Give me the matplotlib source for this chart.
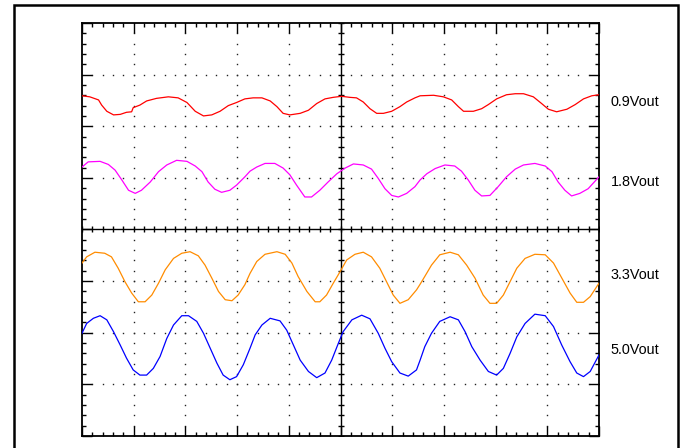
import matplotlib
matplotlib.use("Agg")
import matplotlib.pyplot as plt
from matplotlib.patches import Rectangle
import numpy as np

# Scope traces, in divisions (x: 0-10, y: 0-8 from bottom)
red_x = [0.00, 0.15, 0.32, 0.38, 0.48, 0.61, 0.74, 0.86, 0.96, 0.99, 1.12, 1.25,
         1.44, 1.67, 1.86, 2.03, 2.19, 2.35, 2.51, 2.67, 2.83, 2.99, 3.15, 3.31,
         3.48, 3.64, 3.77, 3.89, 4.02, 4.22, 4.38, 4.54, 4.70, 4.86, 5.02, 5.18,
         5.31, 5.44, 5.57, 5.70, 5.83, 5.99, 6.15, 6.28, 6.44, 6.54, 6.80, 6.99,
         7.15, 7.28, 7.38, 7.57, 7.73, 7.86, 8.02, 8.21, 8.38, 8.54, 8.73, 8.89,
         9.02, 9.18, 9.38, 9.54, 9.70, 9.86, 10.0]
red_y = [6.59, 6.57, 6.51, 6.41, 6.29, 6.22, 6.23, 6.27, 6.28, 6.36, 6.41, 6.49,
         6.54, 6.57, 6.55, 6.46, 6.29, 6.20, 6.22, 6.29, 6.40, 6.46, 6.53, 6.55,
         6.55, 6.49, 6.38, 6.25, 6.22, 6.25, 6.31, 6.44, 6.53, 6.56, 6.58, 6.56,
         6.55, 6.47, 6.34, 6.25, 6.25, 6.29, 6.38, 6.47, 6.55, 6.59, 6.60, 6.57,
         6.51, 6.38, 6.29, 6.29, 6.34, 6.42, 6.53, 6.61, 6.63, 6.63, 6.57, 6.44,
         6.33, 6.28, 6.33, 6.42, 6.53, 6.59, 6.61]

magenta_x = [0.00, 0.12, 0.35, 0.51, 0.64, 0.77, 0.90, 1.03, 1.15, 1.32, 1.48, 1.64,
             1.83, 2.03, 2.19, 2.32, 2.44, 2.57, 2.70, 2.86, 2.99, 3.15, 3.25, 3.38,
             3.54, 3.73, 3.89, 4.02, 4.15, 4.31, 4.44, 4.60, 4.76, 4.93, 5.09, 5.25,
             5.44, 5.60, 5.73, 5.86, 5.99, 6.12, 6.28, 6.44, 6.54, 6.67, 6.83, 7.02,
             7.21, 7.34, 7.47, 7.60, 7.73, 7.89, 8.05, 8.21, 8.38, 8.54, 8.76, 8.96,
             9.09, 9.21, 9.34, 9.47, 9.63, 9.79, 10.0]
magenta_y = [5.21, 5.31, 5.32, 5.26, 5.15, 4.96, 4.76, 4.70, 4.76, 4.92, 5.12, 5.25,
             5.34, 5.32, 5.23, 5.12, 4.92, 4.78, 4.72, 4.76, 4.86, 5.02, 5.13, 5.21,
             5.28, 5.28, 5.19, 5.06, 4.86, 4.63, 4.63, 4.76, 4.92, 5.08, 5.19, 5.27,
             5.25, 5.17, 4.99, 4.79, 4.66, 4.63, 4.70, 4.83, 4.96, 5.08, 5.18, 5.25,
             5.23, 5.13, 4.96, 4.76, 4.65, 4.66, 4.83, 5.02, 5.17, 5.25, 5.28, 5.23,
             5.12, 4.92, 4.76, 4.65, 4.70, 4.79, 5.02]

orange_x = [0.00, 0.09, 0.25, 0.44, 0.57, 0.70, 0.83, 0.96, 1.09, 1.22, 1.35, 1.48,
            1.61, 1.77, 1.93, 2.09, 2.25, 2.38, 2.51, 2.64, 2.77, 2.90, 3.02, 3.15,
            3.25, 3.38, 3.54, 3.77, 3.93, 4.06, 4.18, 4.35, 4.51, 4.60, 4.73, 4.86,
            4.99, 5.12, 5.28, 5.44, 5.60, 5.76, 5.89, 6.02, 6.15, 6.31, 6.47, 6.54,
            6.63, 6.76, 6.92, 7.12, 7.28, 7.44, 7.60, 7.76, 7.89, 8.02, 8.15, 8.28,
            8.41, 8.57, 8.76, 8.96, 9.12, 9.28, 9.44, 9.57, 9.70, 9.83, 10.0]
orange_y = [3.35, 3.47, 3.56, 3.54, 3.47, 3.25, 2.99, 2.77, 2.60, 2.60, 2.73, 2.96,
            3.22, 3.44, 3.54, 3.57, 3.49, 3.31, 3.06, 2.80, 2.64, 2.62, 2.73, 2.93,
            3.15, 3.38, 3.52, 3.57, 3.52, 3.35, 3.09, 2.80, 2.60, 2.60, 2.73, 2.96,
            3.18, 3.41, 3.52, 3.56, 3.47, 3.25, 2.99, 2.73, 2.57, 2.64, 2.83, 2.94,
            3.09, 3.31, 3.51, 3.56, 3.51, 3.31, 3.06, 2.73, 2.57, 2.57, 2.73, 2.99,
            3.25, 3.44, 3.52, 3.51, 3.35, 3.06, 2.77, 2.59, 2.59, 2.70, 2.96]

blue_x = [0.00, 0.09, 0.22, 0.35, 0.48, 0.61, 0.74, 0.86, 0.99, 1.12, 1.25, 1.38,
          1.51, 1.64, 1.77, 1.93, 2.06, 2.22, 2.35, 2.48, 2.61, 2.73, 2.86, 2.99,
          3.12, 3.25, 3.35, 3.48, 3.64, 3.83, 3.96, 4.09, 4.22, 4.38, 4.54, 4.70,
          4.83, 4.96, 5.05, 5.22, 5.41, 5.57, 5.73, 5.86, 5.99, 6.15, 6.31, 6.47,
          6.54, 6.63, 6.76, 6.92, 7.12, 7.28, 7.41, 7.54, 7.70, 7.86, 8.02, 8.15,
          8.28, 8.41, 8.57, 8.76, 8.96, 9.12, 9.28, 9.44, 9.57, 9.70, 9.83, 10.0]
blue_y = [1.99, 2.18, 2.28, 2.33, 2.25, 2.02, 1.76, 1.51, 1.28, 1.18, 1.18, 1.31,
          1.54, 1.89, 2.15, 2.33, 2.33, 2.22, 1.99, 1.70, 1.41, 1.18, 1.09, 1.15,
          1.38, 1.70, 1.96, 2.15, 2.28, 2.23, 2.05, 1.76, 1.47, 1.25, 1.13, 1.22,
          1.47, 1.80, 2.02, 2.25, 2.34, 2.27, 1.99, 1.70, 1.44, 1.22, 1.16, 1.28,
          1.47, 1.73, 1.99, 2.22, 2.31, 2.25, 2.02, 1.73, 1.47, 1.25, 1.18, 1.31,
          1.60, 1.92, 2.18, 2.36, 2.33, 2.12, 1.76, 1.44, 1.22, 1.15, 1.25, 1.57]

labels = ["0.9Vout", "1.8Vout", "3.3Vout", "5.0Vout"]
label_y = [6.40, 4.84, 3.04, 1.59]
colors = ["#ff0000", "#ff00ff", "#ff8c00", "#0000ff"]

fig = plt.figure(figsize=(6.81, 4.48), dpi=100)
fig.patch.set_facecolor("white")

# outer frame of the screenshot (bottom edge cut off)
fig.add_artist(Rectangle((14 / 681, -0.05), 664 / 681, 1.05 - 5 / 448,
                         transform=fig.transFigure, fill=False,
                         edgecolor="black", linewidth=1.8))

ax = fig.add_axes([82 / 681, 12 / 448, 517 / 681, 413 / 448])
ax.set_xlim(0, 10)
ax.set_ylim(0, 8)

# graticule: dotted division lines
minor = np.arange(0, 10.01, 0.2)
minor_y = np.arange(0, 8.01, 0.2)
for gx in [1, 2, 3, 4, 6, 7, 8, 9]:
    ax.plot(np.full_like(minor_y, gx), minor_y, ls="none", marker="s",
            ms=1.0, mew=0, color="#222222", zorder=1)
for gy in [1, 2, 3, 5, 6, 7]:
    ax.plot(minor, np.full_like(minor, gy), ls="none", marker="s",
            ms=1.0, mew=0, color="#222222", zorder=1)

# centre axes with small ticks
ax.axhline(4, color="black", lw=1.0, zorder=1)
ax.axvline(5, color="black", lw=1.0, zorder=1)
ax.plot(minor, np.full_like(minor, 4), ls="none", marker="|", ms=5,
        mew=1.0, color="black", zorder=1)
ax.plot(np.full_like(minor_y, 5), minor_y, ls="none", marker="_", ms=5,
        mew=1.0, color="black", zorder=1)

# traces
traces = [(red_x, red_y), (magenta_x, magenta_y),
          (orange_x, orange_y), (blue_x, blue_y)]
for (tx, ty), c in zip(traces, colors):
    ax.plot(tx, ty, color=c, lw=0.9, zorder=3)

for lab, ly in zip(labels, label_y):
    ax.text(10.23, ly, lab, fontsize=10.4, family="Liberation Sans",
            va="baseline", ha="left", color="black", clip_on=False)

ax.set_xticks(np.arange(0, 11, 1))
ax.set_yticks(np.arange(0, 9, 1))
ax.set_xticks(minor, minor=True)
ax.set_yticks(minor_y, minor=True)
ax.tick_params(which="both", direction="in", top=True, right=True,
               labelbottom=False, labelleft=False, color="black", width=1.0)
ax.tick_params(which="major", length=7)
ax.tick_params(which="minor", length=3)
for sp in ax.spines.values():
    sp.set_linewidth(1.3)
    sp.set_color("black")

fig.savefig("out.png", dpi=100)
